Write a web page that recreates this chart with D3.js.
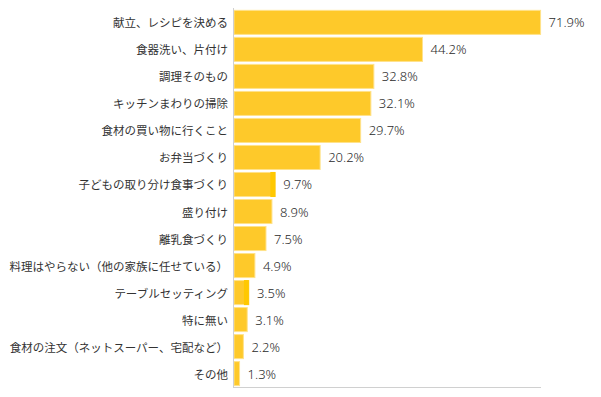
<!DOCTYPE html>
<html><head><meta charset="utf-8">
<script src="https://cdn.jsdelivr.net/npm/d3@7"></script>
<style>body{margin:0;background:#fff}svg{display:block}</style>
</head><body>
<svg id="c" width="601" height="397"></svg>
<script>
const categories = ["献立、レシピを決める","食器洗い、片付け","調理そのもの","キッチンまわりの掃除","食材の買い物に行くこと","お弁当づくり","子どもの取り分け食事づくり","盛り付け","離乳食づくり","料理はやらない（他の家族に任せている）","テーブルセッティング","特に無い","食材の注文（ネットスーパー、宅配など）","その他"];
const values = [71.9,44.2,32.8,32.1,29.7,20.2,9.7,8.9,7.5,4.9,3.5,3.1,2.2,1.3];
const valueLabels = ["71.9%","44.2%","32.8%","32.1%","29.7%","20.2%","9.7%","8.9%","7.5%","4.9%","3.5%","3.1%","2.2%","1.3%"];
const accented = ["子どもの取り分け食事づくり","テーブルセッティング"];

const svg = d3.select("#c");
const x = d3.scaleLinear().domain([0, 72]).range([234, 541]);
const y = d3.scaleBand().domain(categories).range([9, 387]).paddingInner(0.11).paddingOuter(0.05);
const font = "'Noto Sans CJK JP','Noto Sans',sans-serif";

svg.append("g").selectAll("rect").data(values).join("rect")
  .attr("x", x(0))
  .attr("y", (d,i) => y(categories[i]))
  .attr("width", d => x(d) - x(0))
  .attr("height", y.bandwidth())
  .attr("fill", "#fec92a")
  .attr("stroke", "#ffe28a")
  .attr("stroke-width", 1);

svg.append("g").selectAll("rect").data(values.map((v,i)=>({v, c:categories[i]})).filter(d => accented.includes(d.c))).join("rect")
  .attr("x", d => x(d.v) - 5)
  .attr("y", d => y(d.c) - 0.5)
  .attr("width", 5)
  .attr("height", y.bandwidth() + 1)
  .attr("fill", "#ffc800");

// axes
svg.append("line").attr("x1", 233.5).attr("x2", 233.5).attr("y1", 8).attr("y2", 387.5)
  .attr("stroke", "#d0d0d0").attr("stroke-width", 1);
svg.append("line").attr("x1", 233).attr("x2", 541).attr("y1", 387.5).attr("y2", 387.5)
  .attr("stroke", "#d0d0d0").attr("stroke-width", 1);

svg.append("g").selectAll("text").data(categories).join("text")
  .attr("x", 228)
  .attr("y", d => y(d) + y.bandwidth()/2)
  .attr("text-anchor", "end")
  .attr("dominant-baseline", "central")
  .attr("font-family", font)
  .attr("font-size", 11.5)
  .attr("fill", "#333")
  .text(d => d);

svg.append("g").selectAll("text").data(values).join("text")
  .attr("x", d => x(d) + 8)
  .attr("y", (d,i) => y(categories[i]) + y.bandwidth()/2)
  .attr("dominant-baseline", "central")
  .attr("font-family", "'Noto Sans','DejaVu Sans',sans-serif")
  .attr("font-size", 13)
  .attr("font-weight", 300)
  .attr("fill", "#2a2a2a")
  .text((d,i) => valueLabels[i]);
</script>
</body></html>
